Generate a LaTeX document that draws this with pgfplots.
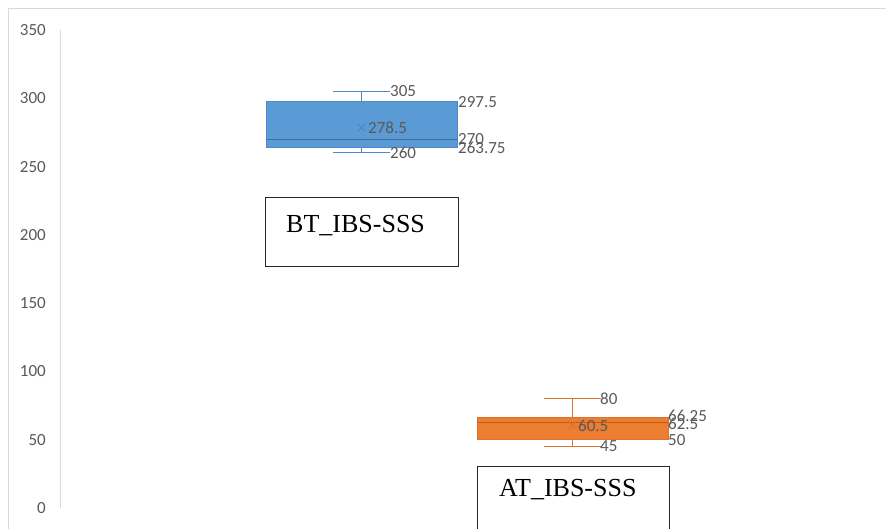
\documentclass[border=0pt]{standalone}
\usepackage{pgfplots}
\pgfplotsset{compat=1.18}
\usepgfplotslibrary{statistics}
\usepackage{fontspec}
\setmainfont{Carlito}
\newfontfamily\tnr{Liberation Serif}
\definecolor{bluefill}{HTML}{5B9BD5}
\definecolor{blueedge}{HTML}{41719C}
\definecolor{bluewh}{HTML}{4F88C6}
\definecolor{orfill}{HTML}{ED7D31}
\definecolor{oredge}{HTML}{C55A11}
\definecolor{orwh}{HTML}{D9742F}
\definecolor{lab}{HTML}{595959}
\definecolor{frame}{HTML}{D9D9D9}
\tikzset{lbl/.style={anchor=west, inner sep=0pt, font=\fontsize{17}{20}\selectfont, text=lab}}
\begin{document}
\begin{tikzpicture}
\useasboundingbox (0pt,0pt) rectangle (886pt,528pt);
\draw[frame, line width=1pt] (8pt,-5pt) -- (8pt,519pt) -- (890pt,519pt);
\begin{axis}[at={(60pt,20pt)}, anchor=south west, scale only axis,
  width=820pt, height=478pt, xmin=60, xmax=880, ymin=0, ymax=350,
  ytick={0,50,...,350}, axis x line=none, axis y line*=left,
  y axis line style={frame, line width=1pt, -},
  major tick length=0pt,
  yticklabel style={font=\fontsize{17}{20}\selectfont, text=lab, inner sep=0pt, xshift=-14pt},
  /pgf/number format/assume math mode=true, clip=false,
  boxplot/draw direction=y]
\addplot[boxplot prepared={draw position=361.5, lower whisker=260, lower quartile=263.75,
  median=270, upper quartile=297.5, upper whisker=305, average=278.5,
  box extend=191, whisker extend=57,
  every median/.style={draw=blueedge, line width=1pt},
  every average/.style={/tikz/mark=x, /tikz/mark size=5.5pt, /tikz/mark options={draw=lab!70, line width=0.8pt}}},
  draw=bluewh, fill=bluefill, line width=1pt] coordinates {};
\addplot[boxplot prepared={draw position=572.5, lower whisker=45, lower quartile=50,
  median=62.5, upper quartile=66.25, upper whisker=80, average=60.5,
  box extend=191, whisker extend=57,
  every median/.style={draw=oredge, line width=1pt},
  every average/.style={/tikz/mark=x, /tikz/mark size=5.5pt, /tikz/mark options={draw=lab!70, line width=0.8pt}}},
  draw=orwh, fill=orfill, line width=1pt] coordinates {};
\node[lbl] at (axis cs:390,305) {305};
\node[lbl] at (axis cs:458,297.5) {297.5};
\node[lbl] at (axis cs:368,278.5) {278.5};
\node[lbl] at (axis cs:458,270) {270};
\node[lbl] at (axis cs:458,263.75) {263.75};
\node[lbl] at (axis cs:390,260) {260};
\node[lbl] at (axis cs:600,80) {80};
\node[lbl,yshift=2pt] at (axis cs:668,66.25) {66.25};
\node[lbl,yshift=-1pt] at (axis cs:668,62.5) {62.5};
\node[lbl] at (axis cs:578,60.5) {60.5};
\node[lbl] at (axis cs:668,50) {50};
\node[lbl] at (axis cs:600,45) {45};
\draw[black!85, line width=1pt] (axis cs:265,227.7) rectangle (axis cs:458,176.5);
\node[anchor=base west, inner sep=0pt, font=\tnr\fontsize{26}{30}\selectfont] at (axis cs:286,201.4) {BT\_IBS-SSS};
\draw[black!85, line width=1pt] (axis cs:477,30.75) rectangle (axis cs:669,-30);
\node[anchor=base west, inner sep=0pt, font=\tnr\fontsize{26}{30}\selectfont] at (axis cs:499,8.3) {AT\_IBS-SSS};
\end{axis}
\end{tikzpicture}
\end{document}
